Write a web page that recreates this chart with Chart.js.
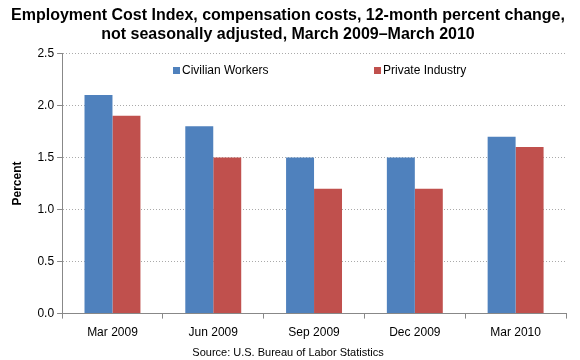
<!DOCTYPE html>
<html><head><meta charset="utf-8">
<script src="https://cdn.jsdelivr.net/npm/chart.js@4/dist/chart.umd.min.js"></script>
<style>html,body{margin:0;padding:0;background:#fff}#wrap{width:580px;height:360px}</style>
</head><body><div id="wrap"><canvas id="c" width="580" height="360"></canvas></div>
<script>
const categories = ["Mar 2009", "Jun 2009", "Sep 2009", "Dec 2009", "Mar 2010"];
const civilianWorkers = [2.1, 1.8, 1.5, 1.5, 1.7];
const privateIndustry = [1.9, 1.5, 1.2, 1.2, 1.6];
const yTicks = [0, 0.5, 1.0, 1.5, 2.0, 2.5];
const FONT = "'Liberation Sans', Arial, sans-serif";

const insideLegend = {
  id: 'insideLegend',
  afterDraw(chart) {
    const ctx = chart.ctx;
    const items = [[chart.data.datasets[0], 173], [chart.data.datasets[1], 374]];
    ctx.save();
    ctx.font = "12px " + FONT;
    ctx.textBaseline = 'middle';
    for (const [ds, x] of items) {
      ctx.fillStyle = ds.backgroundColor;
      ctx.fillRect(x, 67, 7, 7);
      ctx.fillStyle = '#000';
      ctx.fillText(ds.label, x + 9, 71);
    }
    ctx.restore();
  }
};

new Chart(document.getElementById('c'), {
  type: 'bar',
  data: {
    labels: categories,
    datasets: [
      { label: 'Civilian Workers', data: civilianWorkers, backgroundColor: '#4F81BD' },
      { label: 'Private Industry', data: privateIndustry, backgroundColor: '#C0504D' }
    ]
  },
  options: {
    responsive: false,
    animation: false,
    layout: { padding: { left: 10, right: 14, top: 0, bottom: 0 } },
    datasets: { bar: { categoryPercentage: 0.555, barPercentage: 1.0 } },
    plugins: {
      legend: { display: false },
      tooltip: { enabled: false },
      title: {
        display: true,
        text: ['Employment Cost Index, compensation costs, 12-month percent change,', 'not seasonally adjusted, March 2009\u2013March 2010'],
        color: '#000',
        font: { family: FONT, size: 16, weight: 'bold', lineHeight: 1.2 },
        padding: { top: 6, bottom: 9 }
      },
      subtitle: {
        display: true,
        position: 'bottom',
        text: 'Source: U.S. Bureau of Labor Statistics',
        color: '#000',
        font: { family: FONT, size: 11, lineHeight: 1.0 },
        padding: { top: 0, bottom: 2 }
      }
    },
    scales: {
      x: {
        grid: { display: true, drawOnChartArea: false, offset: true, color: '#888', tickLength: 5 },
        border: { color: '#888' },
        ticks: { color: '#000', font: { family: FONT, size: 12 }, padding: 7 }
      },
      y: {
        min: 0, max: 2.5,
        afterBuildTicks(axis) { axis.ticks = yTicks.map(v => ({ value: v })); },
        grid: { color: '#aaa', tickLength: 5, tickColor: '#888' },
        border: { color: '#888', dash: [1, 2] },
        ticks: { color: '#000', font: { family: FONT, size: 12 }, padding: 3, callback: v => Number(v).toFixed(1) },
        title: { display: true, text: 'Percent', color: '#000', font: { family: FONT, size: 12, weight: 'bold' }, padding: { top: 0, bottom: 10 } }
      }
    }
  },
  plugins: [insideLegend]
});
</script></body></html>
